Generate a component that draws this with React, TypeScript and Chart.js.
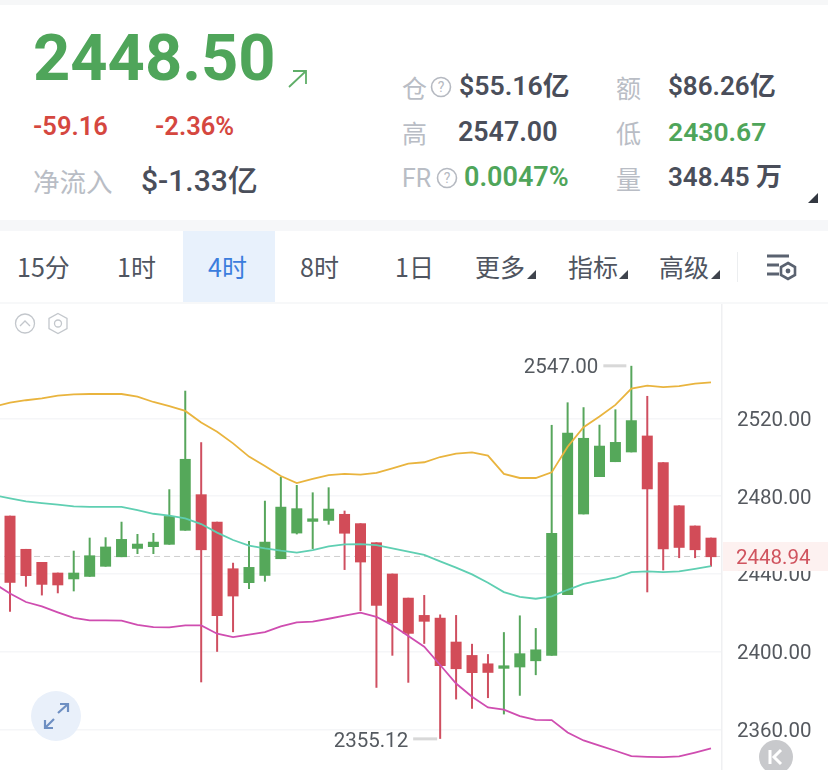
import React, { useEffect, useRef } from "react";
import { Chart, registerables } from "chart.js";

Chart.register(...registerables);

const opens = [2469.9,2452.8,2446.1,2440.6,2437.2,2438.5,2443.7,2448.6,2452.9,2453.8,2455,2462.2,2480.9,2466.8,2442.8,2435.3,2439,2447.6,2460.8,2466.8,2467.3,2470.8,2466,2456.2,2440.1,2427.7,2418.8,2417.4,2405.1,2398.2,2393.9,2391.2,2391.9,2395.1,2397.9,2429.1,2470.6,2489.8,2497.5,2502.5,2511.1,2497.4,2475.2,2464.8,2458.6];
const closes = [2435.4,2438.9,2434.4,2434.1,2440.6,2449.5,2454,2457.9,2455.5,2456.5,2469.7,2499.1,2452.2,2418.3,2428.4,2443.5,2456.5,2474.5,2473.7,2468.5,2473.5,2460.7,2445.9,2423.6,2414.7,2409.2,2415.4,2392.6,2391,2389,2389.1,2392.9,2399.1,2401.1,2461,2512.6,2509.9,2505.9,2507.8,2519,2483.5,2452.6,2453.4,2452.2,2448.6];
const highs = [2469.9,2452.8,2446.1,2440.6,2451.9,2458.6,2458.8,2466.8,2460.5,2461,2483.5,2534.2,2507.7,2466.8,2445.7,2456.9,2477.6,2490,2485.7,2481.9,2484.5,2472.5,2466,2456.2,2440.1,2427.7,2429.1,2419.1,2418.8,2404,2398.7,2410,2418.6,2412.1,2516.6,2528.2,2525.7,2516.7,2524.6,2547,2531.5,2497.4,2475.2,2464.8,2458.6];
const lows = [2420.5,2433.4,2428.9,2430,2431,2438.5,2443.7,2448.6,2450.2,2450.2,2455,2462.2,2384.2,2399.9,2410,2432.2,2436,2447.6,2460.3,2452.8,2465.3,2442,2420.9,2381.4,2397.9,2384,2404,2355.12,2375.4,2370.6,2376.1,2367.7,2377.3,2387.9,2397.9,2429.1,2470.6,2489.8,2497.5,2502.5,2430.5,2441.8,2448.1,2448.1,2443.7];
// Bands start one bar before the first candle, off the left edge.
const upperBand = [2526,2528.1,2529.3,2530.3,2531.7,2532.3,2532.5,2532.5,2532.5,2531.1,2528.4,2526.3,2523.8,2517.8,2513.1,2507.1,2500.3,2495.5,2490.3,2486.7,2488.8,2490.8,2491.4,2491,2491.9,2494.3,2496.7,2497.4,2500.1,2501.8,2502.5,2500.8,2491.4,2489.3,2489.3,2492.2,2505.4,2515.4,2520.9,2526.9,2535.3,2536.8,2536,2536.6,2537.8,2538.5];
const middleBand = [2480.4,2478.8,2477.3,2476.4,2475.6,2474.7,2474.4,2474.4,2474.4,2472.8,2470.9,2469.9,2468.5,2465.6,2461.2,2457.4,2454.5,2453.1,2451.9,2450.9,2452.2,2454.1,2455.2,2455.3,2454.8,2453.1,2451.4,2449.7,2446.4,2443.2,2439.7,2435.4,2430.6,2428.1,2427.2,2428.4,2431.8,2434.8,2436.5,2438,2440.9,2441.3,2440.9,2441.3,2442.6,2444];
const lowerBand = [2435.1,2429.9,2425.5,2423.3,2420.2,2417.3,2416.1,2416.1,2415.9,2413.8,2412.6,2412.5,2413.5,2413.5,2409.2,2407.5,2408.7,2410,2413,2415,2415.4,2416.9,2418.5,2420,2417.9,2413.5,2408,2402.5,2393.1,2383.6,2376.8,2371.3,2370.1,2366.8,2364.9,2364.8,2358.4,2354.3,2351.6,2349,2346.2,2345.9,2345.7,2346.1,2348.1,2350.2];
const yTicks = [2360, 2400, 2440, 2480, 2520];
const lastPrice = 2448.94;
const highPrice = 2547.0;
const lowPrice = 2355.12;

const GREEN = "#55a85a";
const RED = "#d24c58";
const WICK_GREEN = "#57a65c";
const WICK_RED = "#cf4f60";
const CJK = '"Noto Sans CJK SC", Roboto, sans-serif';
const NUM = 'Roboto, "Noto Sans CJK SC", sans-serif';

const overlays = {
  id: "overlays",
  afterDraw(chart: any) {
    const { ctx, scales } = chart;
    const x = scales.x, y = scales.y;
    ctx.save();
    // last price box
    const py = y.getPixelForValue(lastPrice);
    ctx.fillStyle = "#fdf1f0";
    ctx.fillRect(723, py - 14.5, 105, 29);
    ctx.font = "20.5px Roboto";
    ctx.textBaseline = "middle";
    ctx.textAlign = "left";
    ctx.fillStyle = "#d0545f";
    ctx.fillText(lastPrice.toFixed(2), 736, py + 2);
    // high / low flags
    ctx.fillStyle = "#555a60";
    const hi = highs.indexOf(highPrice), lo = lows.indexOf(lowPrice);
    const hx = x.getPixelForValue(hi), hy = y.getPixelForValue(highPrice);
    const lx = x.getPixelForValue(lo), ly = y.getPixelForValue(lowPrice);
    ctx.textAlign = "right";
    ctx.fillText(highPrice.toFixed(2), hx - 33, hy + 2);
    ctx.fillText(lowPrice.toFixed(2), lx - 32, ly + 3);
    ctx.fillStyle = "#d8d8d8";
    ctx.fillRect(hx - 28, hy - 1.5, 23, 3);
    ctx.fillRect(lx - 27, ly - 1.5, 24, 3);
    ctx.restore();
  },
};

function T({ x, y, s, c, w = 400, f = NUM, children }: any) {
  return (
    <span style={{ position: "absolute", left: x, top: y, transform: "translateY(-50%)", fontSize: s, color: c, fontWeight: w, fontFamily: f, lineHeight: 1, whiteSpace: "nowrap" }}>
      {children}
    </span>
  );
}

function Q({ x, y }: any) {
  return (
    <svg style={{ position: "absolute", left: x - 11, top: y - 11 }} width={22} height={22}>
      <circle cx={11} cy={11} r={9.5} fill="none" stroke="#b5b9c1" strokeWidth={1.6} />
      <text x={11} y={16} textAnchor="middle" fontSize={14} fill="#b5b9c1" fontFamily="Roboto">?</text>
    </svg>
  );
}

function Tri({ x, y, s = 9, c = "#3f444d" }: any) {
  return (
    <svg style={{ position: "absolute", left: x, top: y }} width={s} height={s}>
      <path d={`M${s} 0L${s} ${s}L0 ${s}Z`} fill={c} />
    </svg>
  );
}

export default function App() {
  const ref = useRef<HTMLCanvasElement>(null);
  useEffect(() => {
    const idx = opens.map((_, i) => i);
    const up = idx.map((i) => closes[i] > opens[i]);
    const bandPts = (b: number[]) => b.map((v, i) => ({ x: i - 1, y: v }));
    const line = (label: string, b: number[], color: string) => ({
      type: "line", label, data: bandPts(b), borderColor: color, borderWidth: 1.8, pointRadius: 0, tension: 0, order: 1,
    });
    const chart = new Chart(ref.current!, {
      data: {
        datasets: [
          line("upper", upperBand, "#e9b43e"),
          line("middle", middleBand, "#5fcfb2"),
          line("lower", lowerBand, "#cf4db0"),
          {
            type: "line", label: "last", data: [{ x: -1, y: lastPrice }, { x: 46, y: lastPrice }], borderColor: "#cdcdcd", borderWidth: 1, borderDash: [6, 4], pointRadius: 0, order: 4,
          },
          {
            type: "bar", label: "wick", grouped: false, barThickness: 2, inflateAmount: 0, order: 3,
            data: idx.map((i) => ({ x: i, y: [lows[i], highs[i]] })),
            backgroundColor: idx.map((i) => (up[i] ? WICK_GREEN : WICK_RED)),
          },
          {
            type: "bar", label: "body", grouped: false, barThickness: 11, inflateAmount: 0, order: 2,
            data: idx.map((i) => ({ x: i, y: [opens[i], closes[i]] })),
            backgroundColor: idx.map((i) => (up[i] ? GREEN : RED)),
          },
        ],
      } as any,
      options: {
        animation: false,
        responsive: false,
        layout: { padding: 0, autoPadding: false },
        plugins: { legend: { display: false }, tooltip: { enabled: false } },
        scales: {
          x: { type: "linear", display: false, offset: false, min: -0.628, max: 44.69 },
          y: {
            position: "right", min: 2339.1, max: 2578.8, offset: false,
            afterBuildTicks: (s: any) => { s.ticks = yTicks.map((value) => ({ value })); },
            afterFit: (s: any) => { s.width = 106; s.paddingTop = 0; s.paddingBottom = 0; s.paddingLeft = 0; s.paddingRight = 0; },
            grid: { color: "#f5f6f8", lineWidth: 1.5, drawTicks: false },
            border: { color: "#eff0f2", width: 1.5 },
            ticks: { padding: 15, labelOffset: 2.5, color: "#55595f", font: { family: "Roboto", size: 20.5 }, align: "center", crossAlign: "near", callback: (v: any) => Number(v).toFixed(2) },
          },
        },
      } as any,
      plugins: [overlays],
    });
    return () => chart.destroy();
  }, []);

  return (
    <div style={{ position: "fixed", left: 0, top: 0, width: 828, height: 770, overflow: "hidden", background: "#fff" }}>
      <div style={{ position: "absolute", left: 0, top: 0, width: 828, height: 5, background: "#f6f7f8" }} />
      <div style={{ position: "absolute", left: 0, top: 220, width: 828, height: 11, background: "#f6f7f9" }} />
      <T x={33} y={58} s={65} c="#4fa55a" w={700}>2448.50</T>
      <svg style={{ position: "absolute", left: 286, top: 68 }} width={24} height={22}>
        <path d="M3 19L20 3M7 3H20V16" fill="none" stroke="#5fae68" strokeWidth={1.8} />
      </svg>
      <T x={33} y={127} s={25.5} c="#d5473f" w={600}>-59.16</T>
      <T x={155} y={127} s={25.5} c="#d5473f" w={600}>-2.36%</T>
      <T x={33} y={181} s={26.5} c="#b9bdc5" f={CJK}>净流入</T>
      <T x={141} y={181} s={30} c="#4a4e5a" w={500}>$-1.33亿</T>

      <T x={402} y={87} s={25} c="#b9bdc5" f={CJK}>仓</T>
      <Q x={441} y={87} />
      <T x={459} y={86} s={26.7} c="#4a4e5a" w={600}>$55.16亿</T>
      <T x={616} y={87} s={25} c="#b9bdc5" f={CJK}>额</T>
      <T x={668} y={86} s={26} c="#4a4e5a" w={600}>$86.26亿</T>
      <T x={402} y={132} s={25} c="#b9bdc5" f={CJK}>高</T>
      <T x={458} y={132} s={26.8} c="#4a4e5a" w={600}>2547.00</T>
      <T x={616} y={132} s={25} c="#b9bdc5" f={CJK}>低</T>
      <T x={668} y={132} s={26.5} c="#4fa55a" w={600}>2430.67</T>
      <T x={402} y={178} s={25} c="#b9bdc5">FR</T>
      <Q x={447} y={178} />
      <T x={464} y={177} s={27} c="#4fa55a" w={600}>0.0047%</T>
      <T x={616} y={178} s={25} c="#b9bdc5" f={CJK}>量</T>
      <T x={668} y={177} s={26} c="#4a4e5a" w={600}>348.45 万</T>
      <Tri x={808} y={193} s={10} c="#333841" />

      <div style={{ position: "absolute", left: 183, top: 231, width: 92, height: 71, background: "#e8f1fc" }} />
      <div style={{ position: "absolute", left: 0, top: 302, width: 828, height: 2, background: "#f7f8f9" }} />
      <T x={17} y={265.5} s={25} c="#4f5560" f={CJK}>15分</T>
      <T x={117} y={265.5} s={25} c="#4f5560" f={CJK}>1时</T>
      <T x={208} y={265.5} s={25} c="#3b7ddd" f={CJK}>4时</T>
      <T x={300} y={265.5} s={25} c="#4f5560" f={CJK}>8时</T>
      <T x={395} y={265.5} s={25} c="#4f5560" f={CJK}>1日</T>
      <T x={475} y={265.5} s={25} c="#4f5560" f={CJK}>更多</T>
      <Tri x={527} y={270} s={9} />
      <T x={568} y={265.5} s={25} c="#4f5560" f={CJK}>指标</T>
      <Tri x={619} y={270} s={9} />
      <T x={659} y={265.5} s={25} c="#4f5560" f={CJK}>高级</T>
      <Tri x={711} y={270} s={9} />
      <div style={{ position: "absolute", left: 737, top: 252, width: 1, height: 30, background: "#eceef0" }} />
      <svg style={{ position: "absolute", left: 765, top: 252 }} width={34} height={30}>
        <path d="M2 4H24M2 13H14M2 22H14" stroke="#5a6270" strokeWidth={3.2} fill="none" />
        <path d="M23 11l7 4v8l-7 4l-7-4v-8z" fill="none" stroke="#5a6270" strokeWidth={2.6} />
        <circle cx={23} cy={19} r={2.4} fill="#5a6270" />
      </svg>

      <canvas ref={ref} width={828} height={466} style={{ position: "absolute", left: 0, top: 304, display: "block" }} />

      <svg style={{ position: "absolute", left: 12, top: 312 }} width={60} height={24}>
        <circle cx={13} cy={11.5} r={9.5} fill="none" stroke="#c3c7cc" strokeWidth={1.3} />
        <path d="M8 14l5-5l5 5" fill="none" stroke="#c3c7cc" strokeWidth={1.3} />
        <path d="M46 1.5l9 5v10l-9 5l-9-5v-10z" fill="none" stroke="#c3c7cc" strokeWidth={1.3} />
        <circle cx={46} cy={11.5} r={3.5} fill="none" stroke="#c3c7cc" strokeWidth={1.3} />
      </svg>
      <svg style={{ position: "absolute", left: 31, top: 691 }} width={50} height={50}>
        <circle cx={25} cy={25} r={25} fill="#e9f0fa" />
        <path d="M27 22L37 13M29 13H37V21M23 28L14 37M14 29V37H22" fill="none" stroke="#6e8fc2" strokeWidth={2.2} />
      </svg>
      <svg style={{ position: "absolute", left: 759, top: 740 }} width={34} height={34}>
        <circle cx={17} cy={17} r={17} fill="#c8c9cc" />
        <path d="M11 10V24M22 10L15 17L22 24" fill="none" stroke="#fff" strokeWidth={3} />
      </svg>
    </div>
  );
}
